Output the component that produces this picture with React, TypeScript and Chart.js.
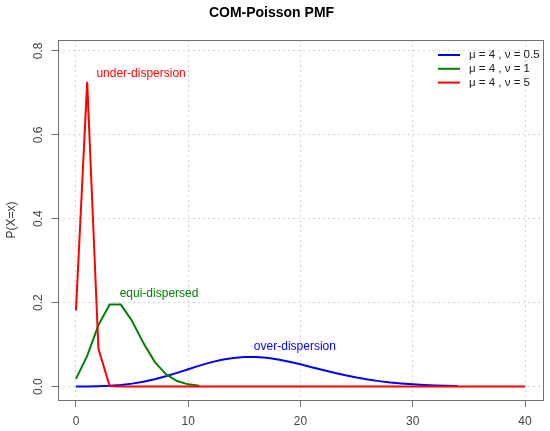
import React, { useEffect, useRef } from "react";
import { Chart, registerables } from "chart.js";

Chart.register(...registerables);

const xTicks = [0, 10, 20, 30, 40];
const yTicks = [0, 0.2, 0.4, 0.6, 0.8];
const seriesLabels = ["μ = 4 , ν = 0.5", "μ = 4 , ν = 1", "μ = 4 , ν = 5"];
const seriesColors = ["#0000FF", "#008000", "#FF0000"];

// x = 0..34
const overValues = [
  0.00007, 0.0003, 0.00085, 0.00196, 0.00393, 0.00703, 0.01148, 0.01735, 0.02454, 0.03272,
  0.04139, 0.04991, 0.05764, 0.06394, 0.06835, 0.0706, 0.0706, 0.0685, 0.06458, 0.05925,
  0.05301, 0.04626, 0.03946, 0.03291, 0.02687, 0.0215, 0.01686, 0.01298, 0.00981, 0.00729,
  0.00532, 0.00383, 0.0027, 0.00189, 0.00129,
];
// x = 0..11
const equiValues = [
  0.0183, 0.0733, 0.1465, 0.1954, 0.1954, 0.1563, 0.1042, 0.0595, 0.0298, 0.0132, 0.0053, 0.0019,
];
// x = 0..40
const underValues = [
  0.1815, 0.7262, 0.0908, 0.0015, 0, 0, 0, 0, 0, 0,
  0, 0, 0, 0, 0, 0, 0, 0, 0, 0,
  0, 0, 0, 0, 0, 0, 0, 0, 0, 0,
  0, 0, 0, 0, 0, 0, 0, 0, 0, 0,
  0,
];

const noteTexts = ["under-dispersion", "equi-dispersed", "over-dispersion"];
const noteX = [5.8, 7.4, 19.5];
const noteY = [0.746, 0.221, 0.094];
const noteColors = ["#FF0000", "#008000", "#0000FF"];

const FONT = "'Liberation Sans', Arial, Helvetica, sans-serif";

const toPoints = (vals: number[]) => vals.map((v, i) => ({ x: i, y: v }));

const boxPlugin = {
  id: "boxPlugin",
  beforeDatasetsDraw(chart: any) {
    const { ctx, chartArea } = chart;
    ctx.save();
    ctx.strokeStyle = "#707070";
    ctx.lineWidth = 1;
    ctx.setLineDash([]);
    ctx.strokeRect(
      Math.round(chartArea.left) + 0.5,
      Math.round(chartArea.top) + 0.5,
      Math.round(chartArea.right - chartArea.left),
      Math.round(chartArea.bottom - chartArea.top)
    );
    ctx.restore();
  },
  afterDraw(chart: any) {
    const { ctx, chartArea, scales } = chart;
    const ys = scales.y;
    const xs = scales.x;
    ctx.save();
    // y tick labels rotated (R style)
    ctx.font = `12px ${FONT}`;
    ctx.fillStyle = "#444";
    ctx.textAlign = "center";
    ctx.textBaseline = "middle";
    yTicks.forEach((v) => {
      const py = ys.getPixelForValue(v);
      ctx.save();
      ctx.translate(38.5, py);
      ctx.rotate(-Math.PI / 2);
      ctx.fillText(v.toFixed(1), 0, 0);
      ctx.restore();
    });
    // annotation texts
    noteTexts.forEach((t, i) => {
      ctx.fillStyle = noteColors[i];
      ctx.fillText(t, xs.getPixelForValue(noteX[i]), ys.getPixelForValue(noteY[i]));
    });
    // legend (top right, no box)
    const ds = chart.data.datasets;
    const lineX0 = chartArea.right - 105;
    const lineX1 = lineX0 + 22;
    const textX = lineX1 + 9;
    ctx.font = `11.5px ${FONT}`;
    ctx.textAlign = "left";
    ds.forEach((d: any, i: number) => {
      const y = chartArea.top + 15 + i * 13.8;
      ctx.strokeStyle = d.borderColor;
      ctx.lineWidth = 2;
      ctx.beginPath();
      ctx.moveTo(lineX0, y);
      ctx.lineTo(lineX1, y);
      ctx.stroke();
      ctx.fillStyle = "#222";
      ctx.fillText(d.label, textX, y);
    });
    ctx.restore();
  },
};

export default function App() {
  const ref = useRef<HTMLCanvasElement | null>(null);
  useEffect(() => {
    if (!ref.current) return;
    const chart = new Chart(ref.current, {
      type: "line",
      data: {
        datasets: [
          {
            label: seriesLabels[0],
            data: toPoints(overValues),
            borderColor: seriesColors[0],
            backgroundColor: seriesColors[0],
            borderWidth: 2,
            pointRadius: 0,
            fill: false,
            tension: 0,
            order: 3,
          },
          {
            label: seriesLabels[1],
            data: toPoints(equiValues),
            borderColor: seriesColors[1],
            backgroundColor: seriesColors[1],
            borderWidth: 2,
            pointRadius: 0,
            fill: false,
            tension: 0,
            order: 2,
          },
          {
            label: seriesLabels[2],
            data: toPoints(underValues),
            borderColor: seriesColors[2],
            backgroundColor: seriesColors[2],
            borderWidth: 2,
            pointRadius: 0,
            fill: false,
            tension: 0,
            order: 1,
          },
        ],
      },
      options: {
        animation: false,
        responsive: false,
        devicePixelRatio: 1,
        layout: { padding: { left: 0, right: 7, top: 0, bottom: 0 } },
        plugins: {
          legend: { display: false },
          tooltip: { enabled: false },
          title: {
            display: true,
            text: "COM-Poisson PMF",
            color: "#000",
            font: { family: FONT, size: 14, weight: "bold" },
            padding: { top: 4.6, bottom: 18.6 },
          },
        },
        scales: {
          x: {
            type: "linear",
            min: -1.6,
            max: 41.6,
            afterBuildTicks: (scale: any) => {
              scale.ticks = xTicks.map((v) => ({ value: v }));
            },
            afterFit: (scale: any) => {
              scale.height = 31;
            },
            ticks: {
              color: "#444",
              font: { family: FONT, size: 12 },
              padding: 7.5,
              maxRotation: 0,
              autoSkip: false,
            },
            grid: {
              color: "#d3d3d3",
              lineWidth: 1,
              drawTicks: true,
              tickLength: 7,
              tickColor: "#707070",
              tickWidth: 1,
              tickBorderDash: [],
            },
            border: { display: false, dash: [2, 3] },
          },
          y: {
            type: "linear",
            min: -0.032,
            max: 0.826,
            afterBuildTicks: (scale: any) => {
              scale.ticks = yTicks.map((v) => ({ value: v }));
            },
            afterFit: (scale: any) => {
              scale.width = 58;
            },
            ticks: { display: false },
            title: {
              display: true,
              text: "P(X=x)",
              color: "#333",
              font: { family: FONT, size: 12 },
              padding: { top: 4.8, bottom: 0 },
            },
            grid: {
              color: "#d3d3d3",
              lineWidth: 1,
              drawTicks: true,
              tickLength: 6.5,
              tickColor: "#707070",
              tickWidth: 1,
              tickBorderDash: [],
            },
            border: { display: false, dash: [2, 3] },
          },
        },
      } as any,
      plugins: [boxPlugin],
    });
    return () => chart.destroy();
  }, []);
  return (
    <div style={{ position: "fixed", left: 0, top: 0, width: 550, height: 431, background: "#fff" }}>
      <canvas ref={ref} width={550} height={431} style={{ width: 550, height: 431 }} />
    </div>
  );
}
